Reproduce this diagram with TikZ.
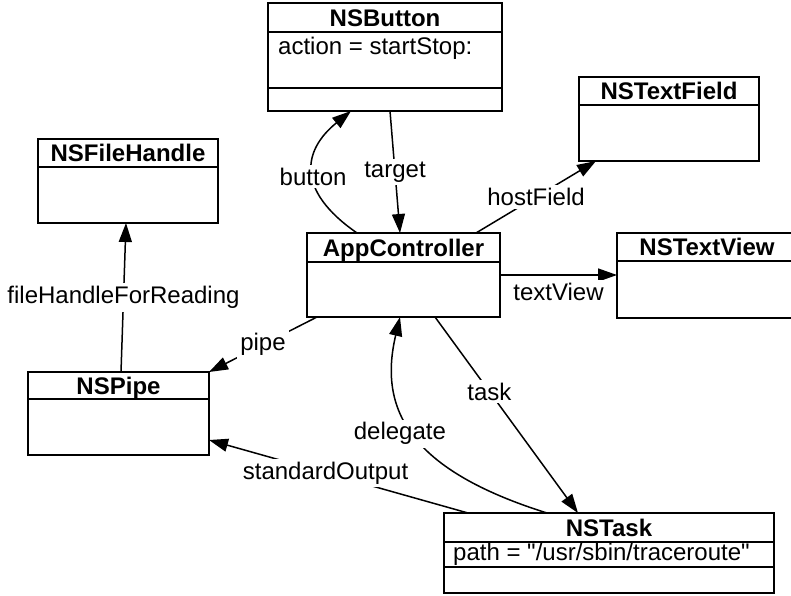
\documentclass[tikz,border=0pt]{standalone}
\usepackage{fontspec}
\setmainfont{Liberation Sans}
\newfontfamily\plainfont{Liberation Sans}
\usetikzlibrary{arrows.meta,calc}
\tikzset{
  classbox/.style={rectangle,draw=black,line width=1.8pt,inner sep=0pt,outer sep=0pt},
  titletext/.style={font=\fontsize{24}{26}\selectfont\bfseries,inner sep=0pt,
    text height=17pt,text depth=0pt},
  attrtext/.style={font=\fontsize{24}{26}\selectfont\plainfont,inner sep=0pt,anchor=base west},
  rowline/.style={line width=1.8pt},
  arrow/.style={-{Triangle[length=19pt,width=13pt]},line width=1.5pt},
  edgelabel/.style={font=\fontsize{24}{26}\selectfont,fill=white,inner sep=3pt},
}

\begin{document}
\begin{tikzpicture}[x=1pt,y=-1pt]
  \path[fill=white,use as bounding box] (0,0) rectangle (791,595);

  % class boxes
  \node[classbox,minimum width=234pt,minimum height=108pt] (btn) at (385,57) {};
  \node[classbox,minimum width=180pt,minimum height=84pt] (tf) at (669,119) {};
  \node[classbox,minimum width=180pt,minimum height=84pt] (fh) at (128,181) {};
  \node[classbox,minimum width=193pt,minimum height=84pt] (app) at (403.5,275) {};
  \node[classbox,minimum width=180pt,minimum height=85pt] (tv) at (707,275.5) {};
  \node[classbox,minimum width=181pt,minimum height=83pt] (pipe) at (118.5,413.5) {};
  \node[classbox,minimum width=330pt,minimum height=80pt] (task) at (609,553) {};

  \node[titletext] (btnT) at ([yshift=-14.5pt]btn.north) {NSButton};
  \node[titletext] (tfT) at ([yshift=-14pt]tf.north) {NSTextField};
  \node[titletext] (fhT) at ([yshift=-14pt]fh.north) {NSFileHandle};
  \node[titletext] (appT) at ([yshift=-14.5pt]app.north) {AppController};
  \node[titletext] (tvT) at ([yshift=-14pt]tv.north) {NSTextView};
  \node[titletext] (pipeT) at ([yshift=-13.5pt]pipe.north) {NSPipe};
  \node[titletext] (taskT) at ([yshift=-14.5pt]task.north) {NSTask};

  \draw[rowline] ([yshift=-29pt]btn.north west) -- ([yshift=-29pt]btn.north east);
  \draw[rowline] ([yshift=23pt]btn.south west) -- ([yshift=23pt]btn.south east);
  \draw[rowline] ([yshift=-28pt]tf.north west) -- ([yshift=-28pt]tf.north east);
  \draw[rowline] ([yshift=-28pt]fh.north west) -- ([yshift=-28pt]fh.north east);
  \draw[rowline] ([yshift=-29pt]app.north west) -- ([yshift=-29pt]app.north east);
  \draw[rowline] ([yshift=-28pt]tv.north west) -- ([yshift=-28pt]tv.north east);
  \draw[rowline] ([yshift=-27pt]pipe.north west) -- ([yshift=-27pt]pipe.north east);
  \draw[rowline] ([yshift=-29pt]task.north west) -- ([yshift=-29pt]task.north east);
  \draw[rowline] ([yshift=26pt]task.south west) -- ([yshift=26pt]task.south east);

  \node[attrtext] (btnA) at ([xshift=10pt,yshift=-51pt]btn.north west) {action = startStop:};
  \node[attrtext] (taskA) at ([xshift=9pt,yshift=-47pt]task.north west) {path = "/usr/sbin/traceroute"};

  % connectors
  \draw[arrow] ([xshift=5pt]btn.south) -- node[edgelabel]{target} ([xshift=-3.5pt]app.north);
  \draw[arrow] ([xshift=-46.5pt]app.north) .. controls (295,190) and (303,150) ..
    node[edgelabel,pos=0.45]{button} ([xshift=-34pt]btn.south);
  \draw[arrow] ([xshift=72.5pt]app.north) -- node[edgelabel]{hostField} ([xshift=17pt]tf.south west);
  \draw[arrow] (app.east) -- node[edgelabel,below=4pt]{textView} (app.east -| tv.west);
  \draw[arrow] ([xshift=10pt]app.south west) -- node[edgelabel]{pipe} (pipe.north east);
  \draw[arrow] ([xshift=2.5pt]pipe.north) -- node[edgelabel]{fileHandleForReading} ([xshift=-2pt]fh.south);
  \draw[arrow] ([xshift=31.5pt]app.south) -- node[edgelabel,pos=0.38]{task} ([xshift=-31pt]task.north);
  \draw[arrow] ([xshift=-62pt]task.north) .. controls (410,470) and (378,410) ..
    node[edgelabel,xshift=-14pt]{delegate} ([xshift=-3.5pt]app.south);
  \draw[arrow] ([xshift=24pt]task.north west) -- node[edgelabel,pos=0.55]{standardOutput} ([yshift=-26.5pt]pipe.east);
\end{tikzpicture}
\end{document}
